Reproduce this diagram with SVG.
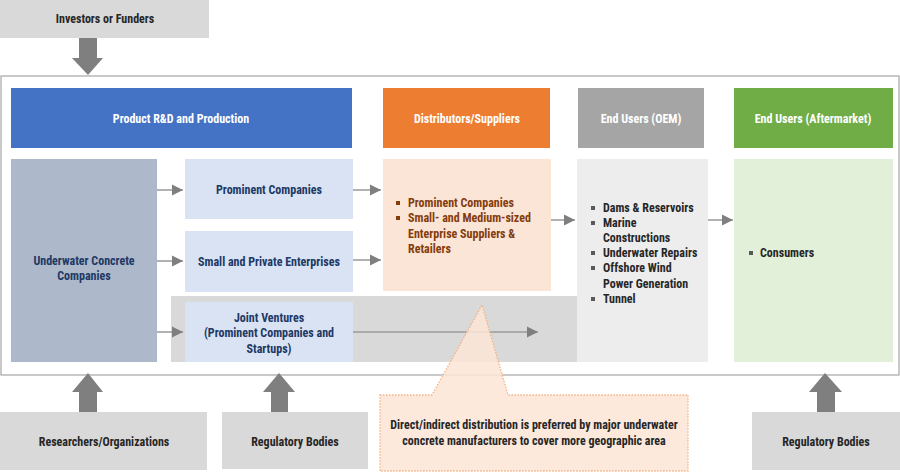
<svg xmlns="http://www.w3.org/2000/svg" width="900" height="474" viewBox="0 0 900 474">
<defs>
<style>
text{font-family:"Liberation Sans Narrow","Roboto Condensed","DejaVu Sans Condensed","Liberation Sans",sans-serif;font-size:12px;font-weight:bold;fill:#262626}
.c{text-anchor:middle}
.w{fill:#ffffff}
.br{fill:#843C0C}
.nv{fill:#203864}
.ln{stroke:#7F7F7F;stroke-width:1.2;fill:none;marker-end:url(#ah)}
.big{fill:#7F7F7F}
.gbox{fill:#D9D9D9}
.bul{fill:#595959}
.bulb{fill:#843C0C}
</style>
<marker id="ah" markerUnits="userSpaceOnUse" markerWidth="12" markerHeight="12" viewBox="0 0 12 12" refX="11" refY="6" orient="auto">
<path d="M0,0.5 L11,6 L0,11.5 Z" fill="#7F7F7F"/>
</marker>
</defs>
<rect width="900" height="474" fill="#ffffff"/>

<rect x="1" y="76" width="898" height="299" fill="#ffffff" stroke="#A6A6A6" stroke-width="1.2"/>

<g id="investors">
<rect x="0" y="0" width="209" height="38" class="gbox"/>
<text x="105" y="23" class="c">Investors or Funders</text>
</g>
<g id="arrow-investors"><path class="big" d="M79,38 H97 V58 H103 L88,75 L72,58 H79 Z"/></g>

<g id="hdr-rd"><rect x="11" y="88" width="341" height="60" fill="#4472C4"/><text x="181" y="123" class="c w">Product R&amp;D and Production</text></g>
<g id="hdr-dist"><rect x="383" y="88" width="167" height="60" fill="#ED7D31"/><text x="467" y="123" class="c w">Distributors/Suppliers</text></g>
<g id="hdr-oem"><rect x="578" y="88" width="126" height="60" fill="#A5A5A5"/><text x="641" y="123" class="c w">End Users (OEM)</text></g>
<g id="hdr-after"><rect x="734" y="88" width="159" height="60" fill="#70AD47"/><text x="813" y="123" class="c w">End Users (Aftermarket)</text></g>

<g id="band"><rect x="171" y="296" width="406" height="66" fill="#D9D9D9"/></g>

<g id="underwater"><rect x="11" y="159" width="146" height="203" fill="#ADB9CA"/>
<text x="84" y="265" class="c nv">Underwater Concrete</text><text x="84" y="280" class="c nv">Companies</text></g>

<g id="prominent"><rect x="185" y="159" width="168" height="60" fill="#DAE3F3"/><text x="269" y="194" class="c nv">Prominent Companies</text></g>
<g id="small"><rect x="185" y="231" width="168" height="61" fill="#DAE3F3"/><text x="269" y="266" class="c nv">Small and Private Enterprises</text></g>
<g id="jv"><rect x="185" y="302" width="168" height="60" fill="#DAE3F3"/>
<text x="269" y="322" class="c nv">Joint Ventures</text><text x="269" y="337" class="c nv">(Prominent Companies and</text><text x="269" y="353" class="c nv">Startups)</text></g>

<g id="dist"><rect x="383" y="159" width="168" height="132" fill="#FBE5D6"/>
<rect x="396" y="201" width="4" height="4" class="bulb"/><text x="408" y="207" class="br">Prominent Companies</text>
<rect x="396" y="216" width="4" height="4" class="bulb"/><text x="408" y="222" class="br">Small- and Medium-sized</text>
<text x="408" y="238" class="br">Enterprise Suppliers &amp;</text>
<text x="408" y="253" class="br">Retailers</text></g>

<g id="oem"><rect x="577" y="159" width="131" height="203" fill="#EDEDED"/>
<rect x="591" y="206" width="4" height="4" class="bul"/><text x="603" y="212">Dams &amp; Reservoirs</text>
<rect x="591" y="221" width="4" height="4" class="bul"/><text x="603" y="227">Marine</text>
<text x="603" y="242">Constructions</text>
<rect x="591" y="251" width="4" height="4" class="bul"/><text x="603" y="257">Underwater Repairs</text>
<rect x="591" y="266" width="4" height="4" class="bul"/><text x="603" y="272">Offshore Wind</text>
<text x="603" y="288">Power Generation</text>
<rect x="591" y="297" width="4" height="4" class="bul"/><text x="603" y="303">Tunnel</text></g>

<g id="after"><rect x="734" y="159" width="159" height="203" fill="#E2F0D9"/>
<rect x="749" y="251" width="4" height="4" class="bul"/><text x="760" y="257">Consumers</text></g>

<g id="connectors">
<line class="ln" x1="157" y1="190" x2="183" y2="190"/>
<line class="ln" x1="157" y1="261" x2="183" y2="261"/>
<line class="ln" x1="157" y1="332" x2="183" y2="332"/>
<line class="ln" x1="353" y1="190" x2="381" y2="190"/>
<line class="ln" x1="353" y1="260" x2="381" y2="260"/>
<line class="ln" x1="353" y1="332" x2="538" y2="332"/>
<line class="ln" x1="551" y1="220" x2="575" y2="220"/>
<line class="ln" x1="708" y1="220" x2="733" y2="220"/>
</g>

<g id="callout">
<path d="M380,395 H432 L482,305 L508,395 H688 V471 H380 Z" fill="#FBE5D6" fill-opacity="0.85" stroke="#F4B183" stroke-width="1.3" stroke-dasharray="1.5,1.5"/>
<text x="534" y="429" class="c">Direct/indirect distribution is preferred by major underwater</text>
<text x="534" y="445" class="c">concrete manufacturers to cover more geographic area</text>
</g>

<g id="researchers"><rect x="0" y="412" width="207" height="58" class="gbox"/><text x="104" y="446" class="c">Researchers/Organizations</text></g>
<g id="arrow-researchers"><path class="big" d="M79,412 V392 H72 L88,373 L103,392 H97 V412 Z"/></g>
<g id="regulatory1"><rect x="222" y="412" width="146" height="57" class="gbox"/><text x="295" y="446" class="c">Regulatory Bodies</text></g>
<g id="arrow-reg1"><path class="big" d="M271,412 V392 H263 L279,373 L295,392 H288 V412 Z"/></g>
<g id="regulatory2"><rect x="752" y="412" width="148" height="58" class="gbox"/><text x="826" y="446" class="c">Regulatory Bodies</text></g>
<g id="arrow-reg2"><path class="big" d="M817,412 V392 H809 L825,373 L842,392 H835 V412 Z"/></g>
</svg>
